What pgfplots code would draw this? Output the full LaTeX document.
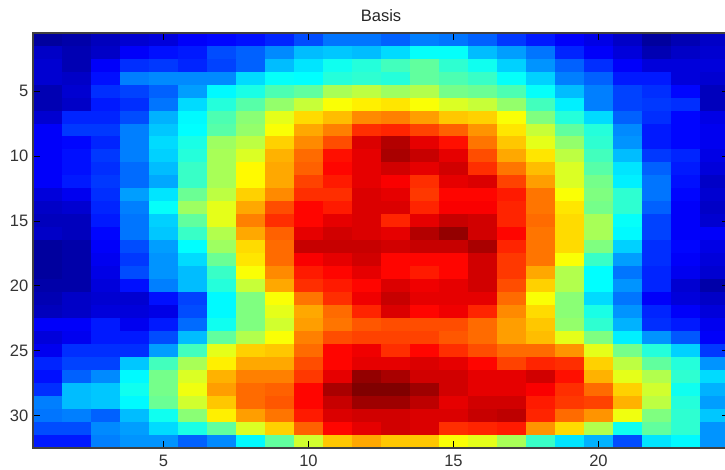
\documentclass[border=0pt]{standalone}
\usepackage{pgfplots}
\usepackage{fontspec}
\setmainfont{Liberation Sans}
\pgfplotsset{compat=1.18}
\begin{document}
\begin{tikzpicture}
\path[use as bounding box] (-24.75pt,-16.5pt) rectangle (519pt,336pt);
\begin{axis}[
  at={(0pt,0pt)}, anchor=south west,
  scale only axis, width=522pt, height=311.25pt,
  xmin=0.5, xmax=24.5, ymin=0.5, ymax=32.5, y dir=reverse,
  enlargelimits=false, axis on top,
  xtick={5,10,15,20}, ytick={5,10,15,20,25,30},
  tick align=inside, major tick length=5.5pt,
  tick style={black, line width=0.6pt},
  axis line style={black!75, line width=0.8pt},
  colormap/jet, point meta min=0, point meta max=100,
  /pgf/number format/assume math mode=true,
  tick label style={font=\fontsize{12.4}{14}\selectfont, text=black!80},
  xticklabel style={yshift=-2pt},
  title={Basis}, title style={font=\fontsize{12.4}{14}\selectfont, text=black!85, yshift=-1.2pt},
]
\addplot[matrix plot*, mesh/cols=24, mesh/ordering=x varies, point meta=explicit]
 table[header=false, row sep=crcr, x expr={mod(\coordindex,24)+1}, y expr={floor((\coordindex+0.5)/24)+1}, meta index=0] {3\\4\\6\\8\\9\\12\\13\\14\\16\\20\\24\\24\\22\\25\\24\\22\\18\\15\\12\\10\\7\\3\\5\\7\\7\\5\\7\\12\\14\\15\\20\\22\\26\\31\\32\\31\\34\\38\\38\\31\\28\\24\\16\\12\\9\\5\\7\\8\\8\\5\\12\\17\\18\\16\\19\\22\\31\\35\\39\\41\\44\\47\\42\\39\\33\\27\\22\\17\\12\\9\\9\\9\\8\\7\\14\\25\\26\\26\\26\\34\\38\\37.5\\41\\42\\41\\47\\45\\43\\38\\33\\25\\22\\15\\15\\9\\8\\5\\8\\17\\19\\22\\28\\37\\40\\45\\47\\54\\56\\53\\55\\49\\48\\45\\38\\31\\25\\19\\17\\13\\6\\5\\7\\15\\17\\24\\34\\41\\46\\52\\57\\62\\64\\65\\62\\59\\57\\52\\44\\36\\25\\19\\18\\17\\6\\8\\16\\16\\20\\30\\37\\45\\51\\60\\66\\69\\74\\75\\72\\68\\67\\62\\50\\41\\34\\22\\17\\13\\10\\12\\18\\18\\25\\32\\37.5\\46\\52\\62\\71\\75\\83\\84\\81\\78\\73\\65\\57\\47\\41\\26\\15\\13\\11\\12\\13\\16\\25\\34\\40\\53\\56\\67\\74\\80\\91\\95\\90\\86\\76\\68\\60\\52\\42\\27\\15\\13\\11\\12\\14\\18\\25\\33\\41\\54\\59\\70\\77\\86\\90\\96\\93\\90\\80\\71\\65\\56\\44\\31\\18\\16\\10\\12\\14\\17\\23\\31\\43\\54\\63\\71\\78\\87\\90\\92\\90\\92\\83\\76\\69\\59\\46\\35\\22\\15\\9\\12\\15\\18\\23\\29\\43\\54\\63\\71\\81\\85\\90\\88\\83\\90\\91\\81\\72\\59\\49\\36\\24\\14\\7\\9\\11\\17\\28\\35\\48\\56\\67\\74\\83\\83\\91\\90\\82\\87\\87\\85\\76\\62\\50\\42\\24\\13\\8\\7\\8\\16\\25\\38\\53\\60\\71\\80\\87\\85\\91\\91\\84\\88\\88\\84\\76\\65\\49\\42\\22\\12\\7\\6\\6\\15\\24\\33\\47\\60\\75\\83\\87\\90\\91\\84\\90\\93\\92\\84\\77\\66\\54\\38\\19\\12\\8\\7\\6\\13\\24\\32\\43\\55\\71\\78\\90\\92\\91\\90\\95\\98\\92\\87\\76\\66\\54\\37\\19\\12\\12\\3\\4\\12\\20\\28\\37.5\\53\\66\\77\\93\\93\\93\\92\\93\\93\\96\\84\\76\\66\\50\\33\\17\\13\\10\\3\\4\\11\\18\\27\\34\\48\\65\\77\\88\\90\\92\\87\\87\\87\\92\\82\\76\\62\\43\\28\\17\\12\\9\\3\\4\\10\\20\\27\\31\\43\\62\\74\\85\\87\\90\\87\\85\\87\\92\\82\\71\\55\\37.5\\24\\16\\11\\8\\4\\4\\9\\14\\25\\31\\41\\57\\71\\83\\85\\87\\91\\89\\90\\92\\80\\67\\55\\37.5\\27\\16\\8\\4\\5\\7\\8\\8\\14\\19\\37\\50\\62\\76\\83\\89\\93\\90\\90\\90\\77\\62\\51\\34\\24\\12\\9\\7\\6\\7\\9\\9\\10\\20\\37\\50\\60\\71\\77\\84\\91\\87\\89\\84\\74\\66\\51\\40\\27\\16\\12\\9\\12\\12\\15\\11\\15\\23\\39\\50\\58\\72\\76\\79\\80\\80\\80\\77\\72\\68\\52\\42\\30\\17\\15\\11\\9\\11\\15\\15\\20\\31\\47\\55\\62\\75\\80\\81\\81\\81\\79\\77\\72\\69\\60\\50\\36\\27\\21\\12\\11\\17\\17\\17\\28\\44\\60\\67\\68\\77\\87\\89\\83\\87\\83\\80\\77\\77\\73\\60\\49\\41\\33\\18\\16\\19\\19\\32\\44\\54\\64\\71\\71\\80\\87\\90\\90\\91\\90\\87\\81\\84\\83\\67\\56\\47\\41\\27\\14\\22\\26\\37\\49\\59\\70\\75\\75\\82\\90\\98\\96\\92\\92\\90\\90\\92\\86\\70\\60\\55\\42\\34\\17\\31\\32\\39\\49\\61\\72\\77\\78\\87\\96\\100\\100\\97\\92\\90\\90\\88\\83\\77\\67\\58\\39\\30\\25\\31\\32\\37\\48\\58\\68\\77\\79\\87\\93\\97\\97\\94\\90\\92\\92\\85\\82\\81\\70\\56\\41\\28\\24\\25\\22\\31\\39\\51\\64\\72\\76\\85\\91\\92\\92\\91\\91\\93\\94\\84\\77\\73\\61\\50\\42\\32\\20\\20\\26\\28\\34\\40\\47\\59\\67\\78\\87\\90\\92\\91\\83\\84\\85\\73\\66\\55\\39\\47\\42\\27\\15\\15\\25\\27\\27\\22\\26\\37\\47\\58\\68\\71\\68\\68\\62\\60\\54\\43\\35\\30\\20\\35\\37\\27\\};
\end{axis}
\end{tikzpicture}
\end{document}
